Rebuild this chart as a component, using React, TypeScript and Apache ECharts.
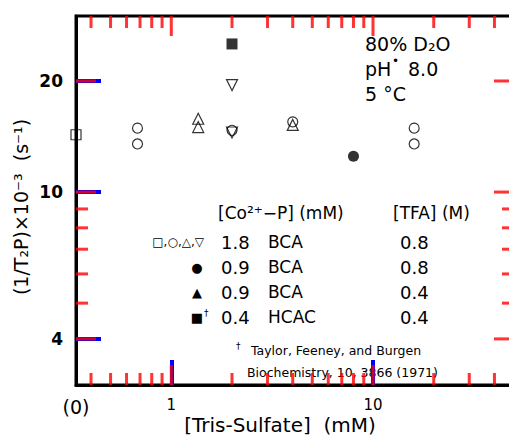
import React, { useEffect, useRef } from "react";
import * as echarts from "echarts";

// ---- axis ranges & ticks ----
const X_MIN = 0.337; // left edge of the plot, labelled "(0)"
const X_MAX = 50;
const Y_MIN = 3;
const Y_MAX = 30;
const X_MAJOR = [1, 10];
const X_MINOR = [0.4, 0.5, 0.6, 0.7, 0.8, 0.9, 2, 3, 4, 5, 6, 7, 8, 9, 20, 30, 40];
const X_LABELS = [X_MIN, 1, 10];
const Y_MAJOR = [4, 10, 20];
const Y_MINOR = [5, 6, 7, 8, 9];

// ---- data: [Tris-Sulfate] (mM), 1/T2P x10^-3 (s^-1) ----
const X_ZERO = X_MIN; // the "(0)" concentration is drawn on the left axis
const openSquare = [[X_ZERO, 14.3]];
const openCircle = [[0.68, 14.9], [0.68, 13.5], [2, 14.7], [4, 15.5], [16, 14.9], [16, 13.5]];
const openTriUp = [[1.36, 15.8], [1.36, 15.0], [4, 15.2]];
const openTriDown = [[2, 19.5], [2, 14.5]];
const filledCircle = [[8, 12.5]];
const filledSquare = [[2, 25.2]];

// ---- legend table ----
const legendHeader = ["[Co²⁺−P] (mM)", "[TFA] (M)"];
const legendSymbols = ["□,○,△,▽", "●", "▲", "■"];
const legendConc = ["1.8", "0.9", "0.9", "0.4"];
const legendEnzyme = ["BCA", "BCA", "BCA", "HCAC"];
const legendTFA = ["0.8", "0.8", "0.4", "0.4"];
const conditions = ["80% D₂O", "pH", "5 °C"];
const pHValue = "8.0";
const reference = ["Taylor, Feeney, and Burgen", "Biochemistry, 10, 3866 (1971)"];
const xTitle = "[Tris-Sulfate]  (mM)";
const yTitle = "(1/T₂P)×10⁻³  (s⁻¹)";

const FONT = "DejaVu Sans";

export default function App() {
  const ref = useRef<HTMLDivElement>(null);
  useEffect(() => {
    if (!ref.current) return;
    const chart = echarts.init(ref.current, undefined, { renderer: "svg" });
    const black = "#000";

    const open = { color: "transparent", borderColor: black, borderWidth: 1.2 };
    const filled = { color: black };
    const sc = (data: number[][], symbol: string, size: number, style: any, rot = 0) => ({
      type: "scatter",
      data,
      symbol,
      symbolSize: size,
      symbolRotate: rot,
      itemStyle: style,
      clip: false,
    });

    const TW = 3;
    const tickSeries = (data: number[][], size: number[], offset: number[]) => ({
      type: "scatter",
      data,
      symbol: "rect",
      symbolSize: size,
      symbolOffset: offset,
      itemStyle: { color: "red" },
      clip: false,
      z: 10,
    });
    const ticks: any[] = [];
    [
      [X_MAJOR, 20],
      [X_MINOR, 12],
    ].forEach((pair: any) => {
      const vals = pair[0];
      const len = pair[1];
      ticks.push(tickSeries(vals.map((v: number) => [v, Y_MIN]), [TW, len], [0, -len / 2]));
      ticks.push(tickSeries(vals.map((v: number) => [v, Y_MAX]), [TW, len], [0, len / 2]));
    });
    [
      [Y_MAJOR, 20],
      [Y_MINOR, 12],
    ].forEach((pair: any) => {
      const vals = pair[0];
      const len = pair[1];
      ticks.push(tickSeries(vals.map((v: number) => [X_MIN, v]), [len, TW], [len / 2, 0]));
      ticks.push(tickSeries(vals.map((v: number) => [X_MAX, v]), [len, TW], [-len / 2, 0]));
    });

    const txt = (
      text: string,
      x: number,
      y: number,
      size: number,
      align = "left",
      extra: any = {}
    ) => ({
      type: "text",
      x,
      y,
      style: {
        text,
        fontFamily: FONT,
        fontSize: size,
        fill: black,
        align,
        verticalAlign: "middle",
      },
      ...extra,
    });

    const rowY = [242, 267, 292, 317];
    const graphics: any[] = [];
    graphics.push(txt(conditions[0], 365, 44, 19));
    graphics.push(txt(conditions[1], 365, 69, 19));
    graphics.push(txt("•", 392, 61, 12));
    graphics.push(txt(pHValue, 408, 69, 19));
    graphics.push(txt(conditions[2], 365, 94, 19));
    graphics.push(txt(legendHeader[0], 218, 213, 17));
    graphics.push(txt(legendHeader[1], 393, 213, 17));
    legendSymbols.forEach((s, i) => {
      if (i === 0) graphics.push(txt(s, 204, rowY[i], 12, "right"));
      else graphics.push(txt(s, 197, rowY[i], 13, "center"));
    });
    graphics.push(txt("†", 204, rowY[3] - 4, 9));
    legendConc.forEach((s, i) => graphics.push(txt(s, 221, rowY[i], 18)));
    legendEnzyme.forEach((s, i) => graphics.push(txt(s, 268, rowY[i], 17)));
    legendTFA.forEach((s, i) => graphics.push(txt(s, 400, rowY[i], 18)));
    graphics.push(txt("†", 236, 346, 9));
    graphics.push(txt(reference[0], 251, 350, 12.5));
    graphics.push(txt(reference[1], 247, 372, 12.5));
    graphics.push(txt(xTitle, 280, 425, 20, "center"));
    graphics.push(txt(yTitle, 21, 207, 19, "center", { rotation: Math.PI / 2 }));

    chart.setOption({
      animation: false,
      grid: {
        left: 76,
        top: 16,
        width: 438,
        height: 369,
        show: true,
        borderColor: black,
        borderWidth: 3,
        backgroundColor: "transparent",
      },
      xAxis: {
        type: "log",
        min: X_MIN,
        max: X_MAX,
        axisLine: { show: true, lineStyle: { color: black, width: 3 } },
        axisTick: { show: true, inside: true, length: 25, customValues: X_MAJOR, lineStyle: { color: "blue", width: 4 } },
        axisLabel: {
          customValues: X_LABELS,
          margin: 12,
          color: black,
          fontFamily: FONT,
          fontSize: 15,
          formatter: (v: number) => (v < 0.5 ? "{big|(0)}" : String(Math.round(v))),
          rich: { big: { fontSize: 19, fontFamily: FONT, color: black } },
        },
        splitLine: { show: false },
      },
      yAxis: {
        type: "log",
        min: Y_MIN,
        max: Y_MAX,
        axisLine: { show: true, lineStyle: { color: black, width: 3 } },
        axisTick: { show: true, inside: true, length: 25, customValues: Y_MAJOR, lineStyle: { color: "blue", width: 4 } },
        axisLabel: {
          customValues: Y_MAJOR,
          margin: 13,
          color: black,
          fontFamily: FONT,
          fontSize: 17,
          fontWeight: "bold",
        },
        splitLine: { show: false },
      },
      series: [
        sc(openSquare, "rect", 10, open),
        sc(openCircle, "circle", 10, open),
        sc(openTriUp, "triangle", 11, open),
        sc(openTriDown, "triangle", 11, open, 180),
        sc(filledCircle, "circle", 11, filled),
        sc(filledSquare, "rect", 11, filled),
        ...ticks,
      ],
      graphic: graphics,
    });
    return () => chart.dispose();
  }, []);
  return (
    <div style={{ position: "fixed", left: 0, top: 0, width: 509, height: 436, overflow: "hidden", background: "#fff" }}>
      <div ref={ref} style={{ width: 540, height: 436 }} />
    </div>
  );
}
